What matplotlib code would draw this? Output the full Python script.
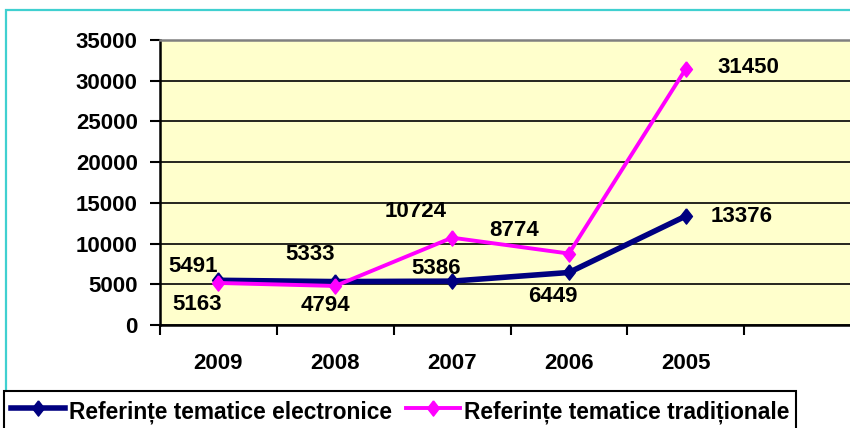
import matplotlib
matplotlib.use("Agg")
import matplotlib.pyplot as plt
from matplotlib.patches import Rectangle
from matplotlib.lines import Line2D

# data
years = ["2009", "2008", "2007", "2006", "2005"]
electronice = [5491, 5333, 5386, 6449, 13376]
traditionale = [5163, 4794, 10724, 8774, 31450]
label_e = "Referințe tematice electronice"
label_t = "Referințe tematice tradiționale"

# label offsets (pixels) relative to the point, as Excel placed them
off_e = [(-25, 14), (-25, 27), (-16, 13), (-16, -24), (56, 0)]
off_t = [(-21, -22), (-10, -20), (-36, 26), (-55, 23), (63, 1)]

NAVY = "#000080"
MAGENTA = "#FF00FF"
# slightly tall diamond, like the Excel marker
DIAMOND = [(0, 1), (0.78, 0), (0, -1), (-0.78, 0), (0, 1)]

plt.rcParams["font.family"] = ["Liberation Sans", "DejaVu Sans"]
plt.rcParams["font.weight"] = "bold"

W, H = 850, 428
fig = plt.figure(figsize=(W / 100, H / 100), dpi=100)
fig.patch.set_facecolor("white")

# turquoise outer frame (right/bottom edges fall outside the picture)
fig.patches.append(Rectangle((6 / W, -0.2), 1.2, 0.2 + (H - 10) / H,
                             transform=fig.transFigure, fill=False,
                             edgecolor="#40D0D0", linewidth=1.6, zorder=0))

# plot area: 6 category slots, the last one empty and cut by the image edge
ax = fig.add_axes([160 / W, (H - 325) / H, 701 / W, 285 / H])
ax.set_facecolor("#FFFFCC")

x = list(range(len(years)))
ax.plot(x, electronice, color=NAVY, lw=4, marker=DIAMOND, ms=11, zorder=3)
ax.plot(x, traditionale, color=MAGENTA, lw=2.8, marker=DIAMOND, ms=11, zorder=4)

for xi, v, off in zip(x, electronice, off_e):
    ax.annotate(str(v), (xi, v), xytext=off, textcoords="offset pixels",
                ha="center", va="center", fontsize=16, fontweight="bold")
for xi, v, off in zip(x, traditionale, off_t):
    ax.annotate(str(v), (xi, v), xytext=off, textcoords="offset pixels",
                ha="center", va="center", fontsize=16, fontweight="bold")

ax.set_xlim(-0.5, 5.5)
ax.set_ylim(0, 35000)
ax.set_yticks(range(0, 35001, 5000))
ax.yaxis.grid(True, color="black", lw=1.2)
ax.set_axisbelow(True)

ax.set_xticks(x)
ax.set_xticklabels(years)
ax.set_xticks([i + 0.5 for i in range(-1, 6)], minor=True)
ax.tick_params(axis="x", which="major", length=0, pad=20, labelsize=16)
ax.tick_params(axis="x", which="minor", length=7, width=1.5, direction="out")
ax.tick_params(axis="y", length=7, width=1.5, pad=9, labelsize=16)

for s in ("left", "bottom"):
    ax.spines[s].set_linewidth(1.8)
    ax.spines[s].set_color("black")
ax.spines["top"].set_color("#808080")
ax.spines["top"].set_linewidth(1.8)
ax.spines["right"].set_visible(False)

handles = [Line2D([], [], color=NAVY, lw=4, marker=DIAMOND, ms=11),
           Line2D([], [], color=MAGENTA, lw=2.8, marker=DIAMOND, ms=11)]
leg = fig.legend(handles, [label_e, label_t], loc="upper left",
                 bbox_to_anchor=(4 / W, (H - 391) / H), ncol=2,
                 fontsize=16.4, frameon=True, fancybox=False, framealpha=1,
                 edgecolor="black", borderpad=0.3, borderaxespad=0,
                 handlelength=2.4, handletextpad=0.15, columnspacing=0.6,
                 handleheight=1.4)
leg.get_frame().set_linewidth(1.5)
for t in leg.get_texts():
    t.set_fontweight("bold")

fig.savefig("out.png", dpi=100)
